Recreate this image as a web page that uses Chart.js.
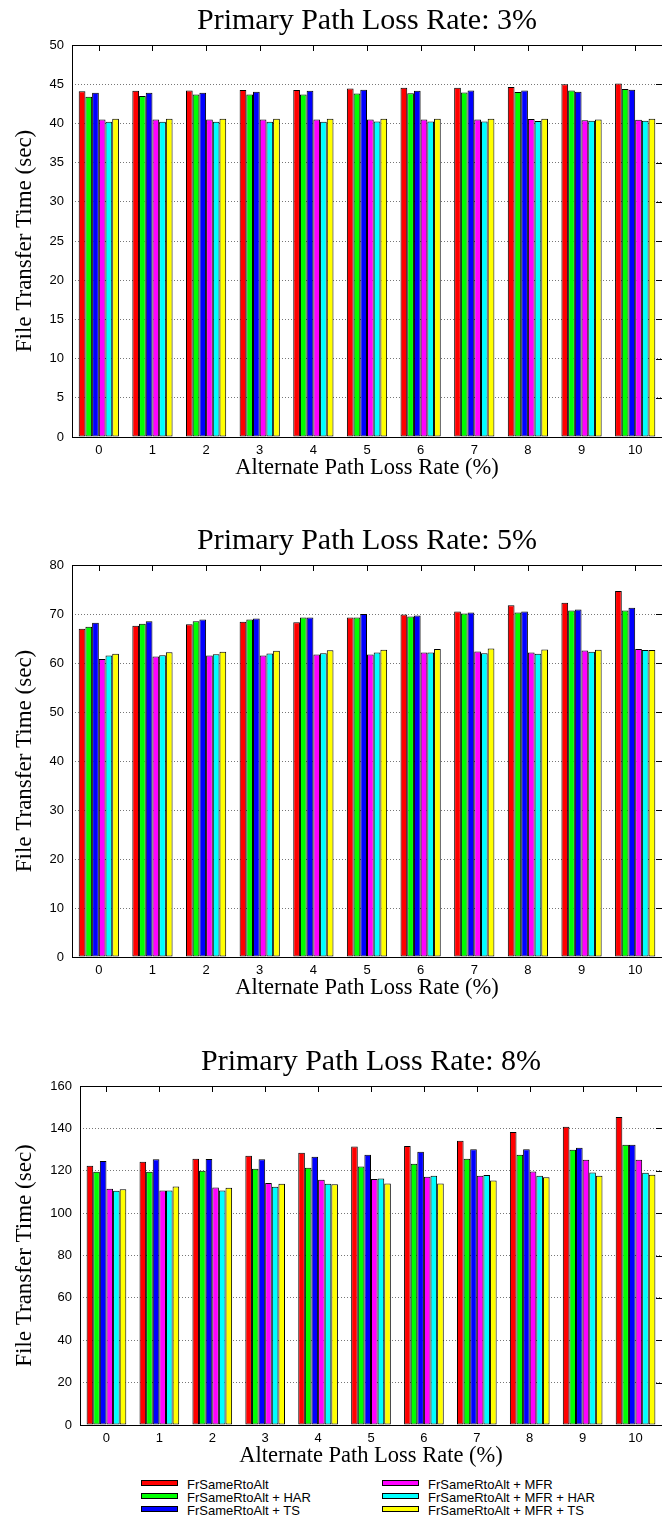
<!DOCTYPE html>
<html>

<head>
    <script src="https://cdn.jsdelivr.net/npm/chart.js@4.4.2/dist/chart.umd.min.js"></script>
    <style>
        body { margin: 0; width: 662px; height: 1520px; overflow: hidden; background: #fff; position: relative; }
        canvas { position: absolute; left: 0; }
        .legend { position: absolute; font: 13px "Liberation Sans", Arial, sans-serif; color: #000; }
        .legend div { height: 13px; line-height: 13px; white-space: nowrap; }
        .legend span { display: inline-block; width: 35px; height: 4px; border: 1px solid #000; margin-right: 9px; vertical-align: 3px; }
    </style>
</head>

<body>
    <canvas id="chart3" width="662" height="485" style="top:0"></canvas>
    <canvas id="chart5" width="662" height="485" style="top:520px"></canvas>
    <canvas id="chart8" width="662" height="432" style="top:1041px"></canvas>
    <div class="legend" id="legend1" style="left:141px; top:1478px"></div>
    <div class="legend" id="legend2" style="left:382px; top:1478px"></div>
</body>
<script>
    const categories = ['0', '1', '2', '3', '4', '5', '6', '7', '8', '9', '10'];
    const seriesNames = ['FrSameRtoAlt', 'FrSameRtoAlt + HAR', 'FrSameRtoAlt + TS',
        'FrSameRtoAlt + MFR', 'FrSameRtoAlt + MFR + HAR', 'FrSameRtoAlt + MFR + TS'];
    const seriesColors = ['#ff0000', '#00ff00', '#0000ff', '#ff00ff', '#00ffff', '#ffff00'];

    // primary path loss rate 3%
    const loss3Fr = [44.1, 44.15, 44.2, 44.25, 44.25, 44.45, 44.55, 44.55, 44.65, 45.0, 45.1];
    const loss3Har = [43.4, 43.5, 43.7, 43.7, 43.7, 43.8, 43.85, 43.95, 44.0, 44.2, 44.4];
    const loss3Ts = [43.9, 43.9, 43.9, 44.05, 44.15, 44.3, 44.15, 44.2, 44.2, 44.05, 44.3];
    const loss3Mfr = [40.5, 40.5, 40.5, 40.5, 40.5, 40.5, 40.5, 40.5, 40.55, 40.4, 40.45];
    const loss3MfrHar = [40.2, 40.2, 40.2, 40.2, 40.2, 40.25, 40.25, 40.25, 40.3, 40.35, 40.35];
    const loss3MfrTs = [40.6, 40.6, 40.6, 40.6, 40.6, 40.6, 40.6, 40.6, 40.6, 40.5, 40.6];

    // primary path loss rate 5%
    const loss5Fr = [67.0, 67.6, 67.9, 68.4, 68.3, 69.3, 69.9, 70.5, 71.8, 72.3, 74.7];
    const loss5Har = [67.4, 68.0, 68.5, 68.9, 69.3, 69.3, 69.5, 70.1, 70.3, 70.7, 70.7];
    const loss5Ts = [68.2, 68.5, 68.9, 69.1, 69.3, 70.0, 69.7, 70.3, 70.5, 70.9, 71.3];
    const loss5Mfr = [60.8, 61.35, 61.55, 61.55, 61.75, 61.75, 62.15, 62.35, 62.15, 62.55, 62.85];
    const loss5MfrHar = [61.55, 61.6, 61.8, 61.95, 62.0, 62.15, 62.15, 62.0, 61.9, 62.3, 62.65];
    const loss5MfrTs = [61.9, 62.2, 62.3, 62.5, 62.6, 62.7, 62.85, 62.95, 62.75, 62.7, 62.65];

    // primary path loss rate 8%
    const loss8Fr = [122.4, 124.2, 125.7, 127.1, 128.5, 131.5, 131.7, 134.2, 138.3, 140.8, 145.4];
    const loss8Har = [119.5, 119.5, 120.0, 120.9, 121.4, 122.0, 123.3, 125.7, 127.6, 129.9, 132.3];
    const loss8Ts = [124.6, 125.4, 125.5, 125.4, 126.6, 127.6, 129.0, 130.1, 130.1, 130.9, 132.3];
    const loss8Mfr = [111.5, 110.7, 112.1, 114.2, 115.8, 116.1, 117.2, 117.6, 119.7, 125.2, 125.2];
    const loss8MfrHar = [110.6, 110.7, 110.7, 112.4, 113.9, 116.4, 117.6, 118.0, 117.6, 119.2, 119.1];
    const loss8MfrTs = [111.3, 112.6, 112.0, 113.9, 113.6, 114.0, 114.0, 115.4, 116.9, 117.6, 118.1];

    const serif = '"Liberation Serif", "Times New Roman", serif';
    const sans = '"Liberation Sans", Arial, sans-serif';

    // solid frame round the plot, with gnuplot-like inward ticks on top and right
    const framePlugin = {
        id: 'frame',
        afterDatasetsDraw(chart) {
            const { ctx, chartArea: a, scales: { x, y } } = chart;
            ctx.save();
            ctx.strokeStyle = '#000';
            ctx.lineWidth = 1;
            ctx.strokeRect(a.left + 0.5, a.top + 0.5, a.right - a.left, a.bottom - a.top);
            ctx.beginPath();
            x.ticks.forEach((t, i) => {
                const px = Math.round(x.getPixelForTick(i)) + 0.5;
                ctx.moveTo(px, a.top);
                ctx.lineTo(px, a.top + 6);
            });
            y.ticks.forEach((t, i) => {
                const py = Math.round(y.getPixelForTick(i)) + 0.5;
                ctx.moveTo(a.right, py);
                ctx.lineTo(a.right - 6, py);
            });
            ctx.stroke();
            ctx.restore();
        }
    };

    function makeChart(id, title, series, yMax, yStep, yWidth, axisHeight) {
        return new Chart(document.getElementById(id), {
            type: 'bar',
            data: {
                labels: categories,
                datasets: series.map((values, i) => ({
                    label: seriesNames[i],
                    data: values,
                    backgroundColor: seriesColors[i],
                    borderColor: '#000',
                    borderWidth: 1,
                    borderSkipped: false,
                    categoryPercentage: 0.75,
                    barPercentage: 1.0
                }))
            },
            options: {
                responsive: false,
                animation: false,
                events: [],
                layout: { padding: 0 },
                plugins: {
                    legend: { display: false },
                    tooltip: { enabled: false },
                    title: {
                        display: true,
                        fullSize: false,
                        text: title,
                        color: '#000',
                        font: { family: serif, size: 30, weight: 'normal', lineHeight: 1.2 },
                        padding: { top: 3, bottom: 6 }
                    }
                },
                scales: {
                    x: {
                        grid: { display: false, drawTicks: false },
                        border: { display: false },
                        ticks: {
                            color: '#000',
                            padding: 6,
                            maxRotation: 0,
                            font: { family: sans, size: 13 }
                        },
                        title: {
                            display: true,
                            text: 'Alternate Path Loss Rate (%)',
                            color: '#000',
                            font: { family: serif, size: 22.5, lineHeight: 1.2 },
                            padding: { top: 0, bottom: 3.5 }
                        },
                        afterFit(scale) { scale.height = axisHeight; }
                    },
                    y: {
                        min: 0,
                        max: yMax,
                        ticks: {
                            stepSize: yStep,
                            color: '#000',
                            padding: 8,
                            font: { family: sans, size: 13 }
                        },
                        grid: { color: '#777', lineWidth: 1, drawTicks: false },
                        border: { display: false, dash: [1, 2] },
                        title: {
                            display: true,
                            text: 'File Transfer Time (sec)',
                            color: '#000',
                            font: { family: serif, size: 23, lineHeight: 1.2 },
                            padding: { top: 11, bottom: 0 }
                        },
                        afterFit(scale) { scale.width = yWidth; }
                    }
                }
            },
            plugins: [framePlugin]
        });
    }

    makeChart('chart3', 'Primary Path Loss Rate: 3%',
        [loss3Fr, loss3Har, loss3Ts, loss3Mfr, loss3MfrHar, loss3MfrTs], 50, 5, 72, 48);
    makeChart('chart5', 'Primary Path Loss Rate: 5%',
        [loss5Fr, loss5Har, loss5Ts, loss5Mfr, loss5MfrHar, loss5MfrTs], 80, 10, 72, 48);
    makeChart('chart8', 'Primary Path Loss Rate: 8%',
        [loss8Fr, loss8Har, loss8Ts, loss8Mfr, loss8MfrHar, loss8MfrTs], 160, 20, 80, 48);

    // two-column legend, as in the original figure
    seriesNames.forEach((name, i) => {
        const row = document.createElement('div');
        row.innerHTML = '<span style="background:' + seriesColors[i] + '"></span>' + name;
        document.getElementById(i < 3 ? 'legend1' : 'legend2').appendChild(row);
    });
</script>

</html>
